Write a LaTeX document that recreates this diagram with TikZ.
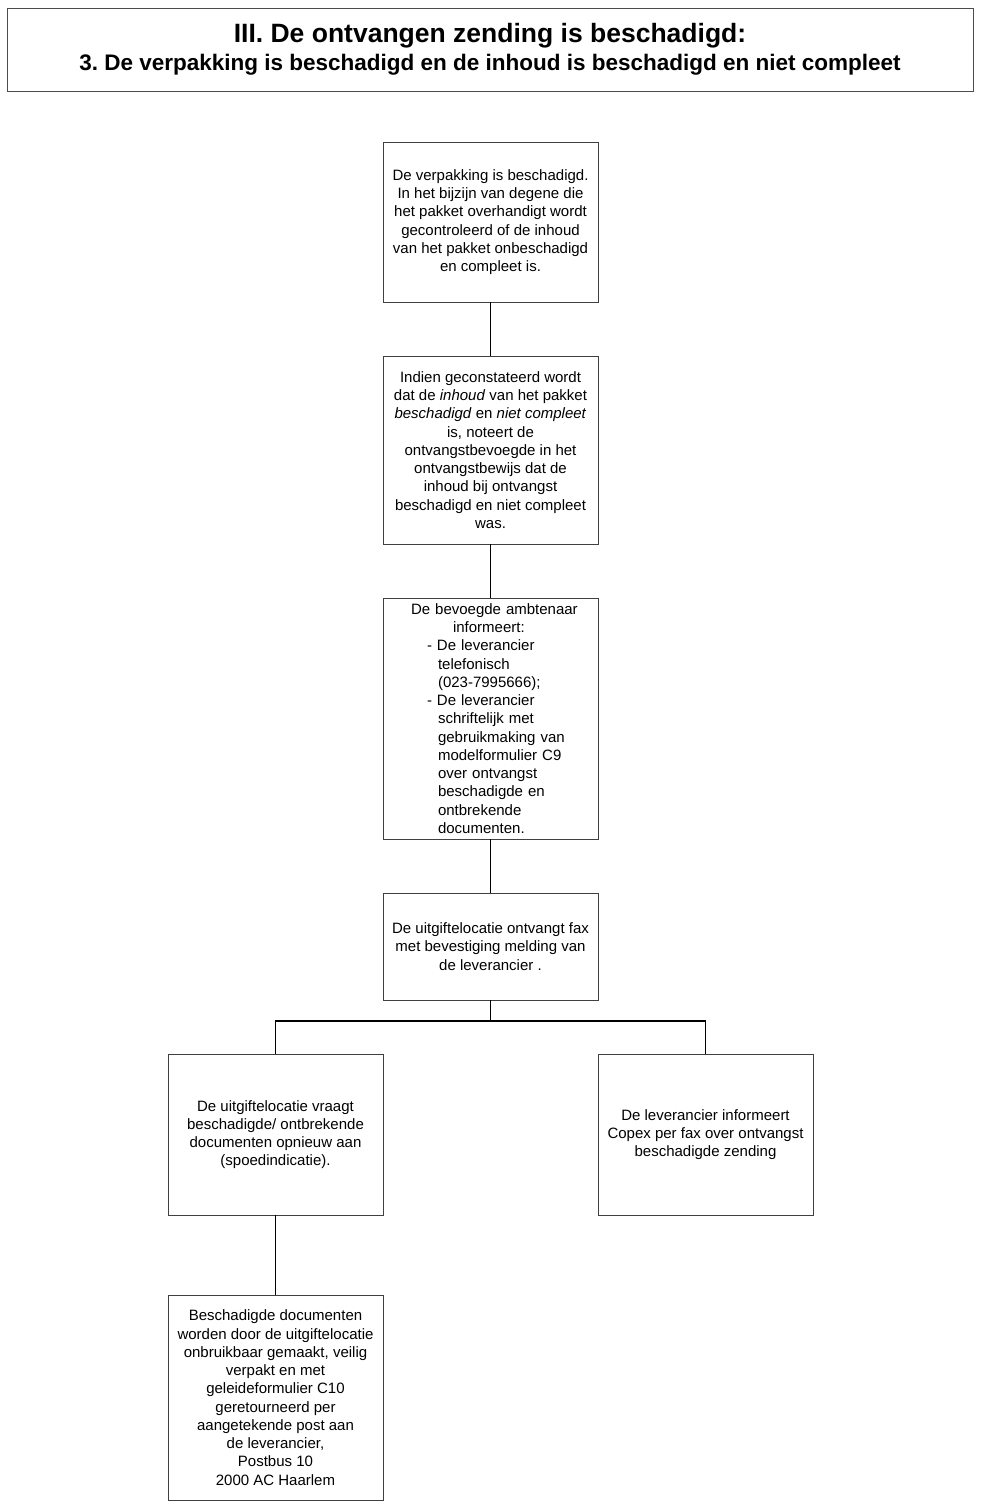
\documentclass[tikz,border=0pt]{standalone}
\usepackage{fontspec}
\setmainfont{Liberation Sans}
\frenchspacing
\begin{document}
\begin{tikzpicture}[x=1pt,y=-1pt,
  box/.style={draw=black!75, line width=0.8pt, minimum width=215pt, inner sep=0pt,
    align=center, font=\fontsize{15}{18.25}\selectfont},
  link/.style={draw=black, line width=0.9pt},
  branch/.style={draw=black, line width=1.8pt}]
\useasboundingbox (0,0) rectangle (982,1507);
\node[draw=black!70, line width=1pt, minimum width=966pt, minimum height=83pt, inner sep=0pt, align=center] (title) at (490,49.5)
  {\fontsize{26.5}{29}\selectfont\bfseries III. De ontvangen zending is beschadigd:\\[5pt]
   \fontsize{22.5}{29}\selectfont\bfseries 3. De verpakking is beschadigd en de inhoud is beschadigd en niet compleet};
\node[box, minimum height=160pt] (b1) at (490.5,222)
  {De verpakking is beschadigd.\\In het bijzijn van degene die\\het pakket overhandigt wordt\\gecontroleerd of de inhoud\\van het pakket onbeschadigd\\en compleet is.};
\node[box, minimum height=188pt] (b2) at (490.5,450)
  {Indien geconstateerd wordt\\dat de \textit{inhoud} van het pakket\\\textit{beschadigd} en \textit{niet compleet}\\is, noteert de\\ontvangstbevoegde in het\\ontvangstbewijs dat de\\inhoud bij ontvangst\\beschadigd en niet compleet\\was.};
\node[box, minimum height=241pt, text width=215pt, align=left] (b3) at (490.5,718.5)
  {\hspace*{28pt}De bevoegde ambtenaar\\
   \hspace*{70pt}informeert:\\
   \hspace*{44pt}- De leverancier\\
   \hspace*{55pt}telefonisch\\
   \hspace*{55pt}(023-7995666);\\
   \hspace*{44pt}- De leverancier\\
   \hspace*{55pt}schriftelijk met\\
   \hspace*{55pt}gebruikmaking van\\
   \hspace*{55pt}modelformulier C9\\
   \hspace*{55pt}over ontvangst\\
   \hspace*{55pt}beschadigde en\\
   \hspace*{55pt}ontbrekende\\
   \hspace*{55pt}documenten.};
\node[box, minimum height=107pt] (b4) at (490.5,946.5)
  {De uitgiftelocatie ontvangt fax\\met bevestiging melding van\\de leverancier .};
\node[box, minimum height=161pt] (b5) at (275.5,1134.5)
  {De uitgiftelocatie vraagt\\beschadigde/ ontbrekende\\documenten opnieuw aan\\(spoedindicatie).};
\node[box, minimum height=161pt] (b6) at (705.5,1134.5)
  {De leverancier informeert\\Copex per fax over ontvangst\\beschadigde zending};
\node[box, minimum height=205pt] (b7) at (275.5,1397.5)
  {Beschadigde documenten\\worden door de uitgiftelocatie\\onbruikbaar gemaakt, veilig\\verpakt en met\\geleideformulier C10\\geretourneerd per\\aangetekende post aan\\de leverancier,\\Postbus 10\\2000 AC Haarlem};
\coordinate (j) at (490.5,1021);
\draw[link] (b1.south) -- (b2.north);
\draw[link] (b2.south) -- (b3.north);
\draw[link] (b3.south) -- (b4.north);
\draw[link] (b4.south) -- (j);
\draw[branch] (b5.north) |- (j) -| (b6.north);
\draw[link] (b5.south) -- (b7.north);
\end{tikzpicture}
\end{document}
